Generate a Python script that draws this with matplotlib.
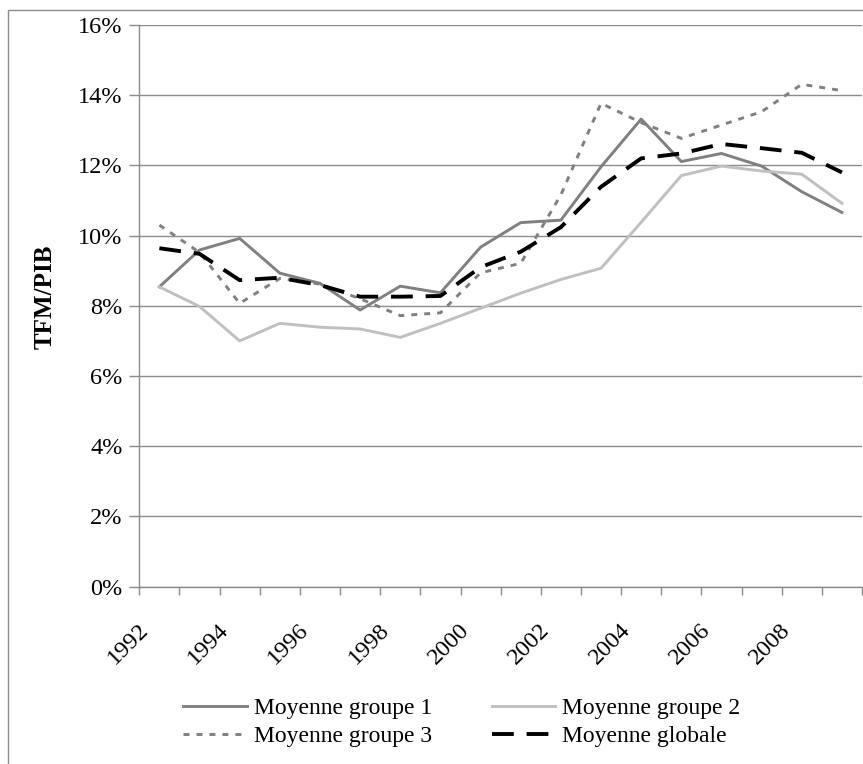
import matplotlib
matplotlib.use("Agg")
import matplotlib.pyplot as plt
import matplotlib.patches as mpatches
import matplotlib.transforms as mtrans
from matplotlib.ticker import FixedLocator, FuncFormatter

years = list(range(1992, 2010))
groupe1 = [8.54, 9.59, 9.92, 8.93, 8.64, 7.88, 8.56, 8.37, 9.67, 10.37, 10.44, 11.96, 13.32, 12.11, 12.34, 11.98, 11.25, 10.66]
groupe2 = [8.54, 7.98, 7.00, 7.50, 7.39, 7.34, 7.10, 7.50, 7.93, 8.36, 8.75, 9.07, 10.38, 11.71, 11.98, 11.84, 11.75, 10.92]
groupe3 = [10.30, 9.52, 8.07, 8.78, 8.62, 8.20, 7.72, 7.80, 8.94, 9.21, 11.16, 13.77, 13.22, 12.77, 13.15, 13.53, 14.31, 14.13]
globale = [9.64, 9.48, 8.73, 8.80, 8.59, 8.26, 8.26, 8.28, 9.10, 9.54, 10.24, 11.39, 12.20, 12.34, 12.61, 12.49, 12.36, 11.80]
labels = ["Moyenne groupe 1", "Moyenne groupe 2", "Moyenne groupe 3", "Moyenne globale"]
yticks = [0, 2, 4, 6, 8, 10, 12, 14, 16]

plt.rcParams['font.family'] = ['Liberation Serif', 'DejaVu Serif']
FS = 17.5

W, H = 863, 764
fig = plt.figure(figsize=(W / 100, H / 100), dpi=100)

# chart area border
fig.patches.append(mpatches.Rectangle((8 / W, -0.05), 1.2, 1 - 10 / H + 0.05,
                                      transform=fig.transFigure, fill=False,
                                      edgecolor='#8c8c8c', linewidth=1.0))

ax = fig.add_axes([139.3 / W, 1 - 586.6 / H, (862 - 139.3) / W, (586.6 - 25) / H])
x = list(range(len(years)))

l1, = ax.plot(x, groupe1, color='#808080', lw=2.1, label=labels[0])
l2, = ax.plot(x, groupe2, color='#c0c0c0', lw=2.1, label=labels[1])
l3, = ax.plot(x, groupe3, color='#808080', lw=2.1, linestyle=(0, (2.05, 2.4)), label=labels[2])
l4, = ax.plot(x, globale, color='#000000', lw=2.8, linestyle=(0, (5.6, 3.3)), label=labels[3])

ax.set_xlim(-0.5, len(years) - 0.5)
ax.set_ylim(0, 16)

# y axis
ax.yaxis.set_major_locator(FixedLocator(yticks))
ax.yaxis.set_major_formatter(FuncFormatter(lambda v, p: f"{int(v)}%"))
ax.tick_params(axis='y', length=7, width=1, color='#8c8c8c', pad=5, labelsize=FS)
ax.grid(axis='y', color='#8c8c8c', lw=1)
ax.set_axisbelow(True)

# x axis: tick marks on category boundaries, labels every other year
ax.xaxis.set_major_locator(FixedLocator([i - 0.5 for i in range(len(years) + 1)]))
ax.xaxis.set_major_formatter(FuncFormatter(lambda v, p: ""))
ax.xaxis.set_minor_locator(FixedLocator([i for i in range(0, len(years), 2)]))
ax.set_xticklabels([str(years[i]) for i in range(0, len(years), 2)], minor=True)
ax.tick_params(axis='x', which='major', length=6, width=1, color='#8c8c8c', direction='out')
ax.tick_params(axis='x', which='minor', length=0, pad=23.5, labelsize=FS)
offset = mtrans.ScaledTranslation(-7 / 100, 0, fig.dpi_scale_trans)
for lab in ax.get_xticklabels(minor=True):
    lab.set_rotation(45)
    lab.set_ha('right')
    lab.set_va('top')
    lab.set_transform(lab.get_transform() + offset)

for s in ['top', 'right']:
    ax.spines[s].set_visible(False)
for s in ['left', 'bottom']:
    ax.spines[s].set_color('#8c8c8c')
    ax.spines[s].set_linewidth(1)

fig.text(45 / W, 1 - 297 / H, "TFM/PIB", rotation=90, ha='center', va='center',
         fontsize=18, fontweight='bold')

# row-major legend order (matplotlib fills column by column)
fig.legend([l1, l3, l2, l4], [labels[0], labels[2], labels[1], labels[3]],
           loc='center', bbox_to_anchor=(462 / W, 1 - 722.5 / H), ncol=2,
           frameon=False, fontsize=17, handlelength=2.7, handletextpad=0.3,
           columnspacing=2.5, labelspacing=0.28, borderpad=0)

fig.savefig("out.png", dpi=100)
